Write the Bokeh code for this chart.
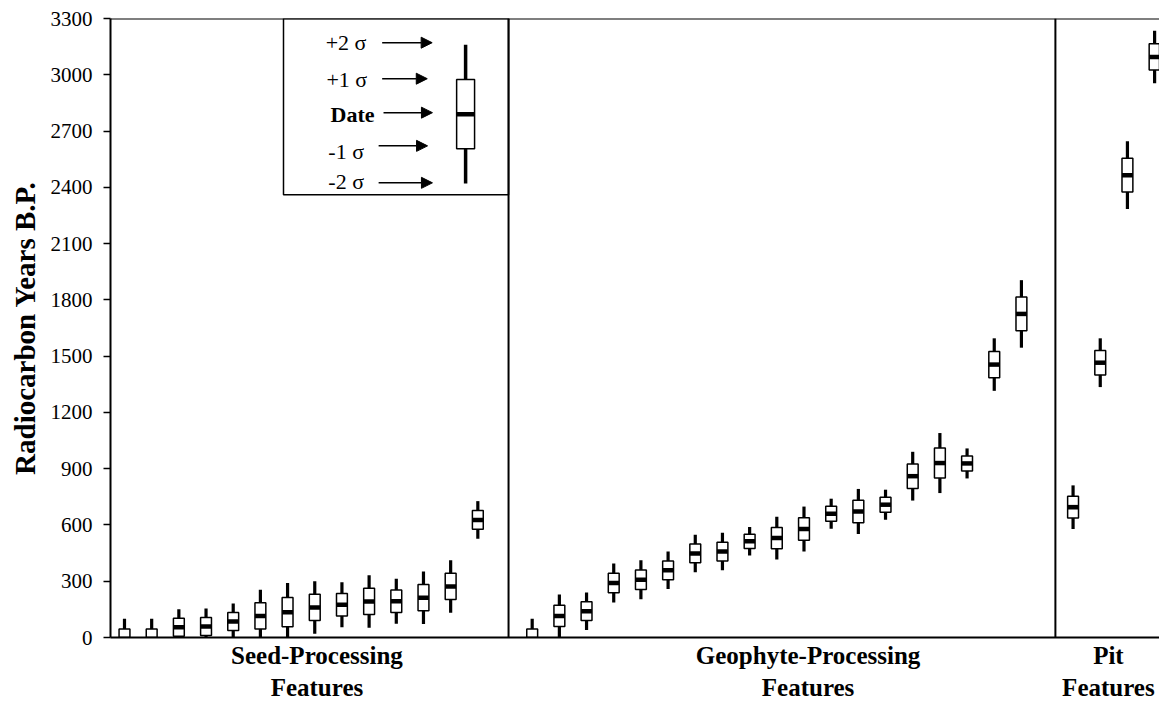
from bokeh.plotting import figure
from bokeh.models import Range1d, FixedTicker, Span, BoxAnnotation, Label, Arrow, NormalHead
from bokeh.embed import file_html
from bokeh.resources import INLINE

# ---- data (radiocarbon date and 1-sigma, years B.P.) ----
seed_date = [-10, -10, 55, 58, 85, 115, 135, 160, 175, 192, 193, 212, 272, 627]
seed_sigma = [55, 55, 48, 48, 48, 70, 78, 70, 60, 70, 60, 70, 70, 50]

geo_date = [-10, 115, 140, 290, 308, 358, 448, 458, 513, 530, 578, 660, 672, 708,
            860, 930, 928, 1455, 1725]
geo_sigma = [55, 57, 50, 52, 52, 50, 50, 50, 38, 57, 60, 40, 60, 40,
             65, 80, 40, 70, 90]

pit_date = [695, 1465, 2465, 3095]
pit_sigma = [58, 65, 90, 70]

y_ticks = [0, 300, 600, 900, 1200, 1500, 1800, 2100, 2400, 2700, 3000, 3300]
group_labels = ["Seed-Processing\nFeatures", "Geophyte-Processing\nFeatures", "Pit\nFeatures"]
legend_labels = ["+2 \u03c3", "+1 \u03c3", "Date", "-1 \u03c3", "-2 \u03c3"]
legend_date = 2790
legend_sigma = 185

FONT = "Liberation Serif"

# slot positions of each group
seed_x = [1 + i for i in range(len(seed_date))]
geo_x = [16 + i for i in range(len(geo_date))]
pit_x = [35.9 + i for i in range(len(pit_date))]
group_cx = [8.08, 26.15, 37.2]

p = figure(width=1159, height=704,
           x_range=Range1d(0.485, 39.08), y_range=Range1d(0, 3300),
           output_backend="svg", toolbar_location=None,
           min_border_left=110, min_border_right=0,
           min_border_top=18, min_border_bottom=67)
p.outline_line_color = None
p.grid.visible = False
p.background_fill_color = "white"
p.border_fill_color = "white"

# x axis: plain line carrying the group names
p.xaxis.ticker = FixedTicker(ticks=group_cx)
p.xaxis.major_label_overrides = {cx: lab for cx, lab in zip(group_cx, group_labels)}
p.xaxis.major_label_text_font = FONT
p.xaxis.major_label_text_font_size = "25px"
p.xaxis.major_label_text_font_style = "bold"
p.xaxis.major_label_text_color = "black"
p.xaxis.major_label_text_line_height = 1.2
p.xaxis.major_label_standoff = 4
p.xaxis.major_tick_out = 0
p.xaxis.major_tick_in = 0
p.xaxis.major_tick_line_color = None
p.xaxis.minor_tick_line_color = None
p.xaxis.axis_line_width = 2
p.xaxis.axis_line_color = "black"

# y axis
p.yaxis.ticker = FixedTicker(ticks=y_ticks)
p.yaxis.major_label_text_font = FONT
p.yaxis.major_label_text_font_size = "21px"
p.yaxis.major_label_text_color = "black"
p.yaxis.major_tick_out = 7
p.yaxis.major_tick_in = 0
p.yaxis.major_tick_line_width = 1.5
p.yaxis.minor_tick_line_color = None
p.yaxis.axis_line_width = 2
p.yaxis.axis_line_color = "black"
p.yaxis.major_label_standoff = 11
p.yaxis.axis_label = "Radiocarbon Years B.P."
p.yaxis.axis_label_text_font = FONT
p.yaxis.axis_label_text_font_style = "bold"
p.yaxis.axis_label_text_font_size = "29px"
p.yaxis.axis_label_text_color = "black"
p.yaxis.axis_label_standoff = 7

# frame top and section dividers
p.add_layout(Span(location=3300, dimension="width", line_color="black", line_width=2))
for loc in (15.13, 35.25):
    p.add_layout(Span(location=loc, dimension="height", line_color="black", line_width=2))


def draw(xs, dates, sigmas, width, whisker_w=3.2):
    lo2 = [d - 2 * s for d, s in zip(dates, sigmas)]
    hi2 = [d + 2 * s for d, s in zip(dates, sigmas)]
    lo1 = [d - s for d, s in zip(dates, sigmas)]
    hi1 = [d + s for d, s in zip(dates, sigmas)]
    p.segment(x0=xs, y0=lo2, x1=xs, y1=hi2, line_color="black", line_width=whisker_w)
    p.vbar(x=xs, width=width, bottom=lo1, top=hi1, fill_color="white",
           line_color="black", line_width=1.5)
    p.rect(x=xs, y=dates, width=width, height=4.5, height_units="screen",
           fill_color="black", line_color=None)


draw(seed_x, seed_date, seed_sigma, 0.4)
draw(geo_x, geo_date, geo_sigma, 0.4)
draw(pit_x, pit_date, pit_sigma, 0.4)

# ---- key box ----
p.add_layout(BoxAnnotation(left=6.85, right=15.13, bottom=2360, top=3300,
                           fill_alpha=0, line_color="black", line_alpha=1.0,
                           line_width=1.5))
draw([13.55], [legend_date], [legend_sigma], 0.66, whisker_w=3.5)

text_x = [8.40, 8.43, 8.58, 8.50, 8.50]
text_y = [3171, 2974, 2787, 2589, 2429]
arr_x0 = [10.48, 10.48, 10.53, 10.35, 10.35]
arr_x1 = [12.32, 12.14, 12.33, 12.15, 12.33]
arr_y = [3171, 2979, 2798, 2621, 2424]
for lab, tx, ty, ax0, ax1, ay in zip(legend_labels, text_x, text_y, arr_x0, arr_x1, arr_y):
    p.add_layout(Label(x=tx, y=ty, text=lab, text_font=FONT, text_font_size="22px",
                       text_font_style="bold" if lab == "Date" else "normal",
                       text_align="left", text_baseline="middle", text_color="black"))
    p.add_layout(Arrow(x_start=ax0, y_start=ay, x_end=ax1, y_end=ay,
                       line_color="black", line_width=1.5,
                       end=NormalHead(size=11, fill_color="black", line_color="black")))

open("out.html", "w").write(file_html(p, INLINE))
